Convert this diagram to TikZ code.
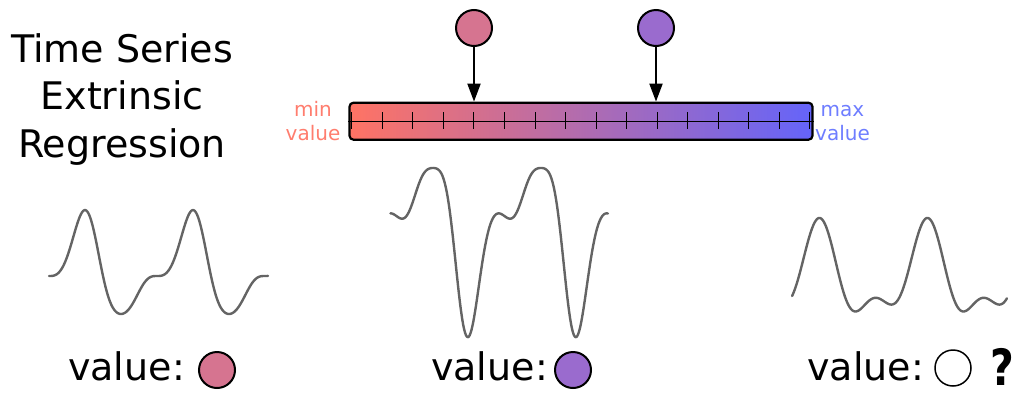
\documentclass[tikz,border=0pt]{standalone}
\usepackage{fontspec}
\setmainfont{DejaVu Sans}
\usetikzlibrary{arrows.meta}
\definecolor{lowc}{RGB}{255,115,100}
\definecolor{highc}{RGB}{100,100,250}
\definecolor{pinkc}{RGB}{214,116,144}
\definecolor{purplec}{RGB}{154,107,206}
\definecolor{mintext}{RGB}{255,125,110}
\definecolor{maxtext}{RGB}{110,125,255}
\definecolor{wavec}{RGB}{100,100,100}
\begin{document}
\begin{tikzpicture}[x=1pt,y=-1pt,
  declare function={
    hA(\t)=-(sin(\t)+0.5*sin(2*\t));
    hB(\t)=-(sin(\t)+0.6*sin(2*\t));
    fC(\t)=cos(\t)+0.5*cos(2*\t)-0.1*sin(\t);
  },
  dot/.style={circle,draw=black,line width=2pt,minimum size=36pt,inner sep=0pt},
  wave/.style={draw=wavec,line width=2.4pt,line join=round,line cap=round},
  pointer/.style={-{Triangle[length=18pt,width=13pt]},line width=2pt},
  big/.style={font=\fontsize{38}{47.5}\selectfont,inner sep=0pt},
  small/.style={font=\fontsize{20}{24}\selectfont,align=center,inner sep=0pt},
]
\useasboundingbox (0,0) rectangle (1019,394);

% title (base anchor sits on the last line)
\node[big,align=center,anchor=base] (title) at (122,157) {Time Series\\Extrinsic\\Regression};

% colour scale bar
\node[draw=black,line width=2.2pt,rounded corners=4pt,left color=lowc,right color=highc,
      minimum width=463pt,minimum height=37pt,inner sep=0pt] (bar) at (581,121.2) {};
\draw[line width=1.3pt] (bar.west) -- (bar.east);
\foreach \i in {0,...,15}
  \draw[line width=1pt] ({351.7+\i*30.55},112.3) -- ++(0,17);
\node[small,text=mintext,anchor=base] (minlab) at (313,140) {min\\value};
\node[small,text=maxtext,anchor=base] (maxlab) at (842.5,140) {max\\value};

% sample values pointing into the scale
\node[dot,fill=pinkc] (k1) at (474,28) {};
\node[dot,fill=purplec] (k2) at (656,28) {};
\draw[pointer] (k1) -- (k1 |- bar.north);
\draw[pointer] (k2) -- (k2 |- bar.north);

% series
\draw[wave] plot[domain=180:910,samples=240,smooth]
  ({49+(\x-180)*0.3},{276-40*hA(\x)-8.28*hA(\x)*hA(\x)});
\draw[wave] plot[domain=160:885,samples=240,smooth]
  ({433+(\x-302)*0.3},{216-61*hB(\x)+19*hB(\x)*hB(\x)});
\draw[wave] plot[domain=-93:623,samples=240,smooth]
  ({820+\x*0.3},{278-40*fC(\x)});

% labels below
\node[big,anchor=base west] (v1) at (68,380) {value:};
\node[dot,fill=pinkc] (c1) at (217,370) {};
\node[big,anchor=base west] (v2) at (431,380) {value:};
\node[dot,fill=purplec] (c2) at (573,370) {};
\node[big,anchor=base west] (v3) at (807,380) {value:};
\node[dot,fill=white,line width=1.5pt] (c3) at (953,368) {};
\node[anchor=base,inner sep=0pt,text depth=0pt,xscale=0.82,transform shape,
      font=\fontsize{50}{52}\selectfont\bfseries] (q) at (1002,385.5) {?};
\end{tikzpicture}
\end{document}
